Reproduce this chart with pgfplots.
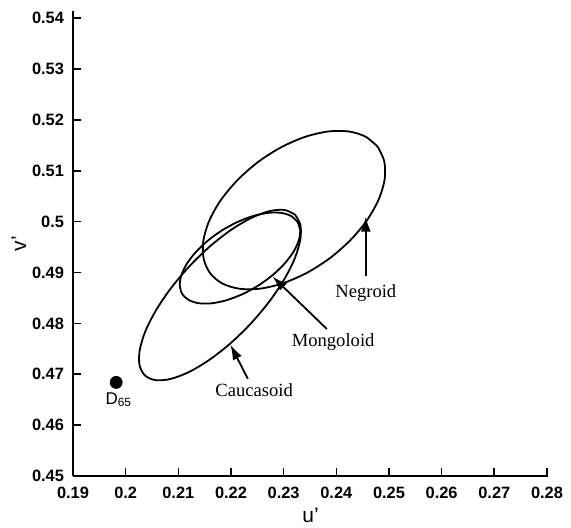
\documentclass[border=0pt]{standalone}
\usepackage{fontspec}
\setmainfont{Liberation Sans}
\newfontfamily\notefont{Liberation Serif}
\usepackage{pgfplots}
\pgfplotsset{compat=1.18}
\usetikzlibrary{arrows.meta}

\begin{document}
\begin{tikzpicture}
\useasboundingbox (-36.5pt,-25.5pt) rectangle (249pt,238pt);
\begin{axis}[
    scale only axis,
    width=237.5pt, height=232.5pt,
    xmin=0.19, xmax=0.2802,
    ymin=0.45, ymax=0.5414,
    axis x line*=bottom, axis y line*=left,
    xtick={0.19,0.20,0.21,0.22,0.23,0.24,0.25,0.26,0.27,0.28},
    ytick={0.45,0.46,0.47,0.48,0.49,0.50,0.51,0.52,0.53,0.54},
    tick align=inside,
    major tick length=4pt,
    every tick/.style={black, line width=0.8pt},
    axis line style={line width=0.9pt},
    ticklabel style={font=\bfseries\fontsize{8.2}{9}\selectfont},
    /pgf/number format/assume math mode=true,
    /pgf/number format/fixed,
    /pgf/number format/precision=2,
    xticklabel style={yshift=-2pt},
    yticklabel style={xshift=-1pt},
    xlabel={u'}, ylabel={v'},
    label style={font=\fontsize{10.5}{12}\selectfont},
    xlabel style={at={(axis description cs:0.5,0)}, anchor=center, yshift=-19.5pt},
    ylabel style={at={(axis description cs:-0.114,0.5)}, anchor=center},
    clip=false,
]

% Negroid
\addplot[black, line width=0.9pt, smooth, mark=none] coordinates {
(0.24788,0.51469) (0.24556,0.51670) (0.24232,0.51773) (0.23837,0.51771)
(0.23398,0.51663) (0.22946,0.51458) (0.22510,0.51169) (0.22122,0.50815)
(0.21806,0.50422) (0.21586,0.50015) (0.21475,0.49623) (0.21481,0.49271)
(0.21604,0.48985) (0.21836,0.48784) (0.22160,0.48681) (0.22555,0.48683)
(0.22994,0.48791) (0.23446,0.48996) (0.23882,0.49285) (0.24270,0.49639)
(0.24586,0.50032) (0.24806,0.50439) (0.24918,0.50831) (0.24911,0.51183)
(0.24788,0.51469)
};

% Caucasoid
\addplot[black, line width=0.9pt, smooth, mark=none] coordinates {
(0.23215,0.50138) (0.23016,0.50230) (0.22733,0.50207) (0.22386,0.50073)
(0.21998,0.49835) (0.21596,0.49510) (0.21208,0.49120) (0.20859,0.48691)
(0.20574,0.48254) (0.20371,0.47837) (0.20266,0.47469) (0.20264,0.47176)
(0.20367,0.46976) (0.20566,0.46884) (0.20849,0.46907) (0.21196,0.47041)
(0.21584,0.47279) (0.21986,0.47604) (0.22374,0.47994) (0.22723,0.48423)
(0.23008,0.48860) (0.23211,0.49277) (0.23316,0.49645) (0.23318,0.49938)
(0.23215,0.50138)
};

% Mongoloid
\addplot[black, line width=0.9pt, smooth, mark=none] coordinates {
(0.23266,0.49992) (0.23142,0.50110) (0.22953,0.50172) (0.22710,0.50173)
(0.22431,0.50114) (0.22134,0.49998) (0.21839,0.49834) (0.21567,0.49632)
(0.21336,0.49406) (0.21162,0.49172) (0.21057,0.48946) (0.21028,0.48742)
(0.21076,0.48576) (0.21200,0.48458) (0.21389,0.48396) (0.21632,0.48395)
(0.21911,0.48454) (0.22208,0.48570) (0.22503,0.48734) (0.22775,0.48936)
(0.23006,0.49162) (0.23180,0.49396) (0.23285,0.49622) (0.23314,0.49826)
(0.23266,0.49992)
};

% D65 white point
\addplot[only marks, mark=*, mark size=3pt, black] coordinates {(0.1982,0.4684)};
\node[font=\fontsize{8.5}{9}\selectfont] at (axis cs:0.1987,0.4650) {D\textsubscript{65}};

% labels with arrows
\draw[-{Latex[length=7.5pt,width=5pt]}, line width=0.9pt] (axis cs:0.2456,0.4893) -- (axis cs:0.2456,0.5010);
\node[font=\notefont\fontsize{9.3}{11}\selectfont] at (axis cs:0.2456,0.4860) {Negroid};

\draw[-{Latex[length=7.5pt,width=5pt]}, line width=0.9pt] (axis cs:0.2382,0.4789) -- (axis cs:0.2279,0.4892);
\node[font=\notefont\fontsize{9.3}{11}\selectfont] at (axis cs:0.2394,0.4763) {Mongoloid};

\draw[-{Latex[length=7.5pt,width=5pt]}, line width=0.9pt] (axis cs:0.2232,0.4691) -- (axis cs:0.2199,0.4758);
\node[font=\notefont\fontsize{9.3}{11}\selectfont] at (axis cs:0.2244,0.4669) {Caucasoid};

\end{axis}
\end{tikzpicture}
\end{document}
